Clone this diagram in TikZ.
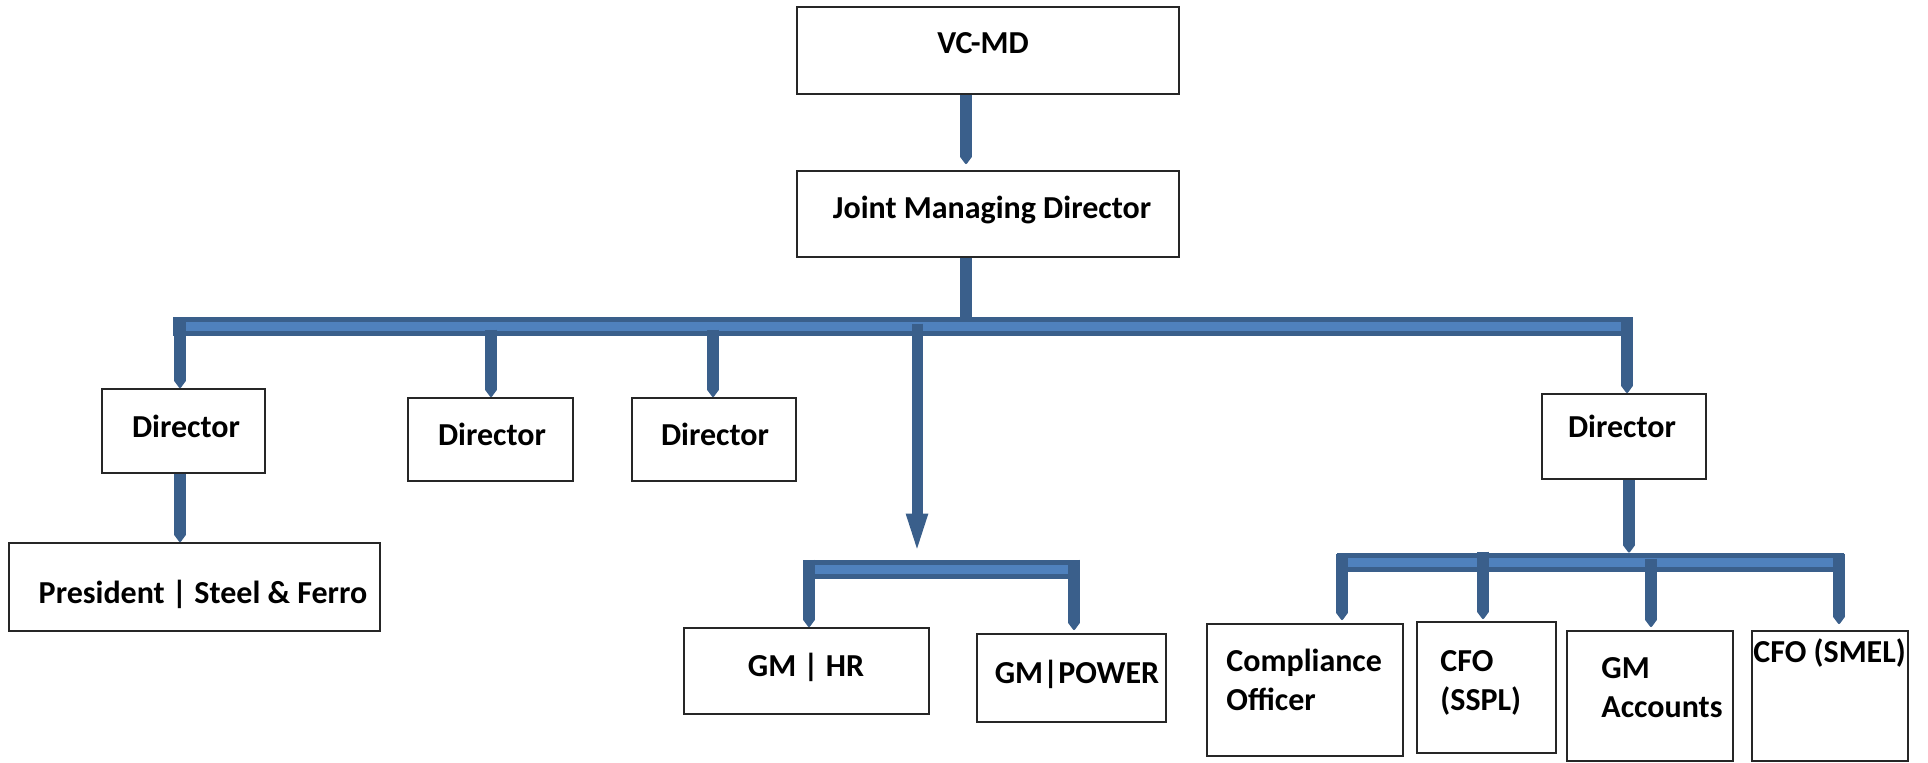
\documentclass[tikz,border=0pt]{standalone}
\usepackage{fontspec}
\setmainfont{Carlito}
\usetikzlibrary{arrows.meta,calc}
\definecolor{dkblue}{HTML}{3A5F8B}
\definecolor{ltblue}{HTML}{4F81BD}
\newcommand\orgbox[5]{\node[box, minimum width={(#4-#2)*0.5pt}, minimum height={(#5-#3)*0.5pt}] (#1) at ({(#2+#4)/2},{(#3+#5)/2}) {};}
\begin{document}
\begin{tikzpicture}[x=0.5pt,y=-0.5pt,
  box/.style={draw=black!85, line width=1pt, fill=white, inner sep=0pt},
  lbl/.style={font=\fontsize{16}{19.5}\selectfont\bfseries, inner sep=0pt, anchor=base},
  lblL/.style={lbl, anchor=base west},
  bar/.style={draw=dkblue, line width=5.8pt},
  drop/.style={bar, -{Triangle[width=7pt,length=5pt,line width=1.5pt,round]}},
  bigdrop/.style={draw=dkblue, line width=5.5pt, -{Triangle[width=9pt,length=23pt]}},
  busD/.style={draw=dkblue, line width=9.5pt},
  busL/.style={draw=ltblue, line width=4.8pt},
]
\useasboundingbox (0,0) rectangle (1928,762);

% boxes
\orgbox{vcmd}{797}{7}{1179}{94}
\orgbox{jmd}{797}{171}{1179}{257}
\orgbox{d1}{102}{389}{265}{473}
\orgbox{pres}{9}{543}{380}{631}
\orgbox{d2}{408}{398}{573}{481}
\orgbox{d3}{632}{398}{796}{481}
\orgbox{gmhr}{684}{628}{929}{714}
\orgbox{gmpow}{977}{634}{1166}{722}
\orgbox{d4}{1542}{394}{1706}{479}
\orgbox{comp}{1207}{624}{1403}{756}
\orgbox{sspl}{1417}{622}{1556}{753}
\orgbox{gmacc}{1567}{631}{1733}{761}
\orgbox{smel}{1752}{631}{1908}{761}

% labels
\node[lbl] (t-vcmd) at (983,53) {VC-MD};
\node[lbl] (t-jmd) at (992,218) {Joint Managing Director};
\node[lbl] (t-d1) at (186,437) {Director};
\node[lbl] (t-d2) at (492,445) {Director};
\node[lbl] (t-d3) at (715,445) {Director};
\node[lbl] (t-pres) at (203,603) {President | Steel \& Ferro};
\node[lbl] (t-gmhr) at (806,676) {GM | HR};
\node[lbl] (t-gmpow) at (1077,683) {GM|POWER};
\node[lbl] (t-d4) at (1622,437) {Director};
\node[lblL] (t-comp) at (1226,671) {\begin{tabular}[t]{@{}l@{}}Compliance\\Officer\end{tabular}};
\node[lblL] (t-sspl) at (1440,671) {\begin{tabular}[t]{@{}l@{}}CFO\\(SSPL)\end{tabular}};
\node[lblL] (t-gmacc) at (1601,678) {\begin{tabular}[t]{@{}l@{}}GM\\Accounts\end{tabular}};
\node[lblL] (t-smel) at (1753,662) {CFO (SMEL)};

% column and bus coordinates
\coordinate (cA) at (966,0);
\coordinate (c1) at (180,0);
\coordinate (c2) at (491,0);
\coordinate (c3) at (713,0);
\coordinate (cL) at (917,0);
\coordinate (c4) at (1627,0);
\coordinate (c4b) at (1629,0);
\coordinate (cH) at (809,0);
\coordinate (cP) at (1074,0);
\coordinate (cC) at (1342,0);
\coordinate (cS) at (1483,0);
\coordinate (cG) at (1651,0);
\coordinate (cM) at (1839,0);
\coordinate (busW) at (173,326.5);
\coordinate (busE) at (1633,326.5);
\coordinate (midW) at (803,569.5);
\coordinate (midE) at (1079,569.5);
\coordinate (rW) at (1337,562.5);
\coordinate (rE) at (1844,562.5);

% top
\draw[drop, shorten >=3pt] (vcmd.south -| cA) -- (jmd.north -| cA);
\draw[bar] (jmd.south -| cA) -- ($(cA |- busW)+(0,-4)$);

% main bus
\draw[busD] (busW) -- (busE);
\draw[busL] ($(busW)+(13,0)$) -- ($(busE)+(-12,0)$);
\draw[drop] ($(c1 |- busW)+(0,-6)$) -- (d1.north -| c1);
\draw[drop] ($(c2 |- busW)+(0,3)$) -- (d2.north -| c2);
\draw[drop] ($(c3 |- busW)+(0,3)$) -- (d3.north -| c3);
\draw[drop] ($(c4 |- busW)+(0,-6)$) -- (d4.north -| c4);
\draw[drop] (d1.south -| c1) -- (pres.north -| c1);

% middle sub-bus
\draw[bigdrop] ($(cL |- busW)+(0,-3)$) -- ($(cL |- midW)+(0,-10)$);
\draw[busD] (midW) -- (midE);
\draw[busL] ($(midW)+(12,0)$) -- ($(midE)+(-11,0)$);
\draw[drop] ($(cH |- midW)+(0,-10)$) -- (gmhr.north -| cH);
\draw[drop] ($(cP |- midW)+(0,-10)$) -- ([yshift=1.5pt]gmpow.north -| cP);

% right sub-bus
\draw[busD] (rW) -- (rE);
\draw[busL] ($(rW)+(10,0)$) -- ($(rE)+(-10,0)$);
\draw[drop] (d4.south -| c4b) -- ($(c4b |- rW)+(0,-10)$);
\draw[drop] ($(cC |- rW)+(0,-9)$) -- ([yshift=1.5pt]comp.north -| cC);
\draw[drop] ($(cS |- rW)+(0,-11)$) -- ([yshift=1pt]sspl.north -| cS);
\draw[drop] ($(cG |- rW)+(0,-4)$) -- ([yshift=1.5pt]gmacc.north -| cG);
\draw[drop] ($(cM |- rW)+(0,-9)$) -- ([yshift=3pt]smel.north -| cM);
\end{tikzpicture}
\end{document}
